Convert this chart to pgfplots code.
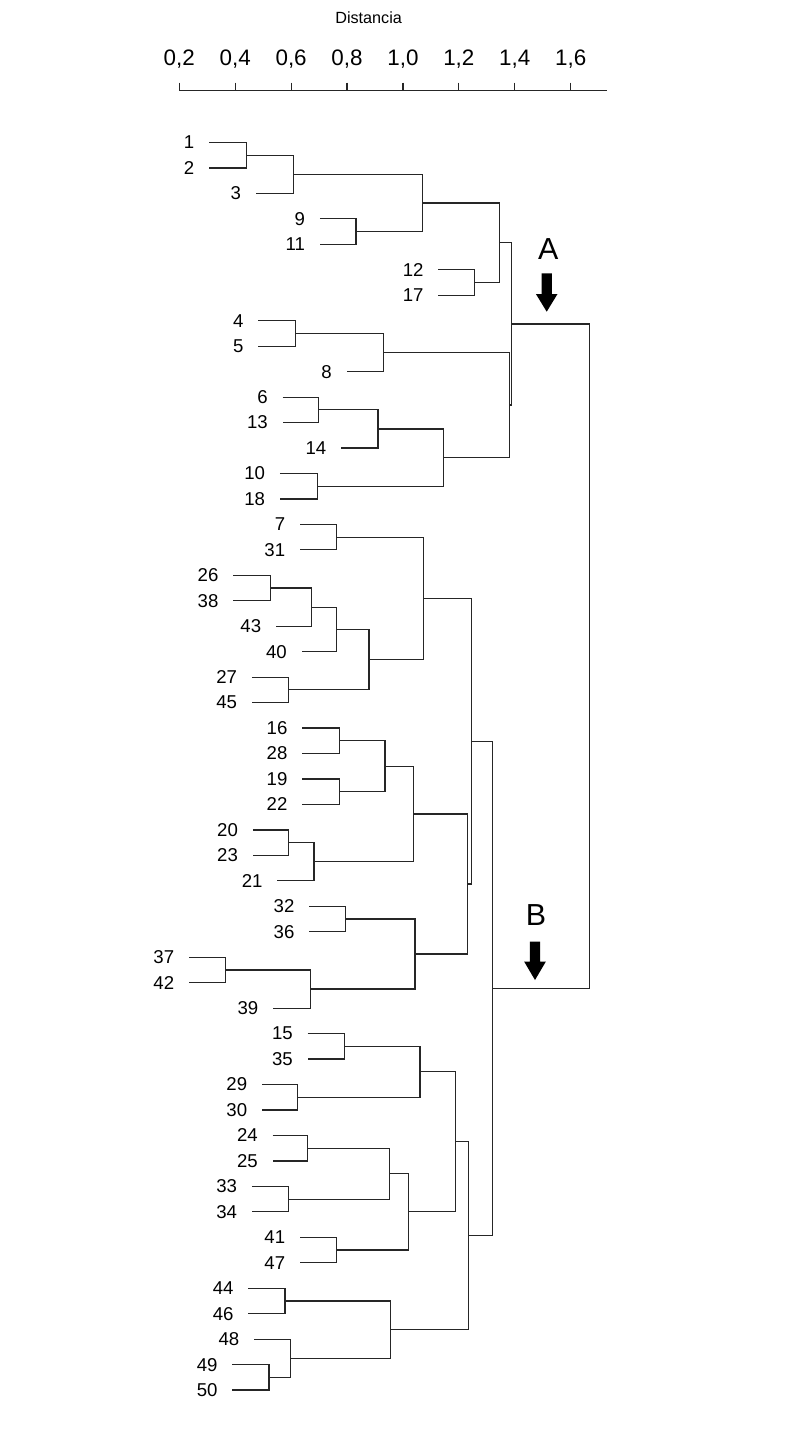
\documentclass[border=0pt]{standalone}
\usepackage{fontspec}
\setmainfont{Liberation Sans}
\usepackage{pgfplots}
\pgfplotsset{compat=1.18}
\usepackage{pgfplotstable}

% dendrogram links: each merge drawn as (child1 x, y1) -- (height, y1) -- (height, y2) -- (child2 x, y2)
\pgfplotstableread{
x y
0.307 1
0.441 1
0.441 2
0.307 2
nan nan
0.441 1.5
0.608 1.5
0.608 3
0.474 3
nan nan
0.703 4
0.832 4
0.832 5
0.703 5
nan nan
0.608 2.25
1.069 2.25
1.069 4.5
0.832 4.5
nan nan
1.127 6
1.255 6
1.255 7
1.127 7
nan nan
1.069 3.375
1.347 3.375
1.347 6.5
1.255 6.5
nan nan
0.483 8
0.616 8
0.616 9
0.483 9
nan nan
0.616 8.5
0.931 8.5
0.931 10
0.799 10
nan nan
0.570 11
0.697 11
0.697 12
0.570 12
nan nan
0.697 11.5
0.911 11.5
0.911 13
0.779 13
nan nan
0.560 14
0.694 14
0.694 15
0.560 15
nan nan
0.911 12.25
1.145 12.25
1.145 14.5
0.694 14.5
nan nan
0.931 9.25
1.381 9.25
1.381 13.375
1.145 13.375
nan nan
1.347 4.9375
1.389 4.9375
1.389 11.3125
1.381 11.3125
nan nan
0.632 16
0.763 16
0.763 17
0.632 17
nan nan
0.393 18
0.526 18
0.526 19
0.393 19
nan nan
0.526 18.5
0.674 18.5
0.674 20
0.546 20
nan nan
0.674 19.25
0.763 19.25
0.763 21
0.638 21
nan nan
0.460 22
0.592 22
0.592 23
0.460 23
nan nan
0.763 20.125
0.879 20.125
0.879 22.5
0.592 22.5
nan nan
0.763 16.5
1.075 16.5
1.075 21.3125
0.879 21.3125
nan nan
0.640 24
0.772 24
0.772 25
0.640 25
nan nan
0.640 26
0.772 26
0.772 27
0.640 27
nan nan
0.772 24.5
0.936 24.5
0.936 26.5
0.772 26.5
nan nan
0.463 28
0.591 28
0.591 29
0.463 29
nan nan
0.591 28.5
0.682 28.5
0.682 30
0.551 30
nan nan
0.936 25.5
1.039 25.5
1.039 29.25
0.682 29.25
nan nan
0.665 31
0.795 31
0.795 32
0.665 32
nan nan
0.235 33
0.366 33
0.366 34
0.235 34
nan nan
0.366 33.5
0.670 33.5
0.670 35
0.536 35
nan nan
0.795 31.5
1.043 31.5
1.043 34.25
0.670 34.25
nan nan
1.039 27.375
1.230 27.375
1.230 32.875
1.043 32.875
nan nan
1.075 18.90625
1.244 18.90625
1.244 30.125
1.230 30.125
nan nan
0.659 36
0.792 36
0.792 37
0.659 37
nan nan
0.496 38
0.624 38
0.624 39
0.496 39
nan nan
0.792 36.5
1.061 36.5
1.061 38.5
0.624 38.5
nan nan
0.534 40
0.659 40
0.659 41
0.534 41
nan nan
0.460 42
0.590 42
0.590 43
0.460 43
nan nan
0.659 40.5
0.951 40.5
0.951 42.5
0.590 42.5
nan nan
0.632 44
0.763 44
0.763 45
0.632 45
nan nan
0.951 41.5
1.021 41.5
1.021 44.5
0.763 44.5
nan nan
1.061 37.5
1.189 37.5
1.189 43
1.021 43
nan nan
0.447 46
0.578 46
0.578 47
0.447 47
nan nan
0.390 49
0.521 49
0.521 50
0.390 50
nan nan
0.468 48
0.599 48
0.599 49.5
0.521 49.5
nan nan
0.578 46.5
0.956 46.5
0.956 48.75
0.599 48.75
nan nan
1.189 40.25
1.234 40.25
1.234 47.625
0.956 47.625
nan nan
1.244 24.515625
1.320 24.515625
1.320 43.9375
1.234 43.9375
nan nan
1.389 8.125
1.669 8.125
1.669 34.2265625
1.320 34.2265625
}\links

% leaves: start of the leaf line, row, name
\pgfplotstableread{
x y label
0.307 1 1
0.307 2 2
0.474 3 3
0.703 4 9
0.703 5 11
1.127 6 12
1.127 7 17
0.483 8 4
0.483 9 5
0.799 10 8
0.570 11 6
0.570 12 13
0.779 13 14
0.560 14 10
0.560 15 18
0.632 16 7
0.632 17 31
0.393 18 26
0.393 19 38
0.546 20 43
0.638 21 40
0.460 22 27
0.460 23 45
0.640 24 16
0.640 25 28
0.640 26 19
0.640 27 22
0.463 28 20
0.463 29 23
0.551 30 21
0.665 31 32
0.665 32 36
0.235 33 37
0.235 34 42
0.536 35 39
0.659 36 15
0.659 37 35
0.496 38 29
0.496 39 30
0.534 40 24
0.534 41 25
0.460 42 33
0.460 43 34
0.632 44 41
0.632 45 47
0.447 46 44
0.447 47 46
0.468 48 48
0.390 49 49
0.390 50 50
}\leaves

\begin{document}
\begin{tikzpicture}
\begin{axis}[
  scale only axis, width=405.5pt, height=716.5pt,
  xmin=-0.4415, xmax=2.4601, ymin=-4.597, ymax=51.687, y dir=reverse,
  hide axis, clip=false,
]
\path (rel axis cs:0,0) rectangle (rel axis cs:1,1);
\addplot[black!85, line width=0.6pt, unbounded coords=jump] table[x=x,y=y] {\links};
\addplot[draw=none, nodes near coords, point meta=explicit symbolic,
  nodes near coords style={anchor=east, inner sep=0pt, xshift=-7.25pt,
    font=\fontsize{9.3}{11}\selectfont, text=black}]
  table[x=x, y=y, meta=label] {\leaves};
% arrows A and B
\addplot[fill=black, draw=none] coordinates {(1.4959,6.137) (1.5331,6.137) (1.5331,6.951) (1.5531,6.951) (1.5145,7.646) (1.4759,6.951) (1.4959,6.951)} -- cycle;
\addplot[fill=black, draw=none] coordinates {(1.4540,32.390) (1.4912,32.390) (1.4912,33.176) (1.5112,33.176) (1.4726,33.895) (1.4340,33.176) (1.4540,33.176)} -- cycle;
\node[anchor=base, inner sep=0pt, font=\fontsize{15.2}{18}\selectfont] at (axis cs:1.520,5.615) {A};
\node[anchor=base, inner sep=0pt, font=\fontsize{15.2}{18}\selectfont] at (axis cs:1.4762,31.762) {B};
\end{axis}
\begin{axis}[
  at={(89.65pt,671.15pt)}, anchor=north west,
  scale only axis, width=213.7pt, height=1pt,
  xmin=0.2, xmax=1.729, ymin=0, ymax=1,
  axis x line=top, axis y line=none,
  axis line style={-, black!85, line width=0.6pt},
  xtick={0.2,0.4,...,1.6},
  xtick align=outside, major tick length=4pt,
  xtick style={black!85, line width=0.6pt},
  /pgf/number format/assume math mode=true,
  /pgf/number format/.cd, use comma, fixed, fixed zerofill, precision=1,
  /pgfplots/.cd,
  xticklabel style={font=\fontsize{11.2}{13}\selectfont, yshift=3.5pt},
  xlabel={Distancia},
  xlabel style={at={(axis description cs:0.443,1)}, anchor=base, yshift=33.7pt,
    font=\fontsize{8.1}{10}\selectfont, inner sep=0pt},
]
\addplot[draw=none] coordinates {(0.2,0)};
\end{axis}
\end{tikzpicture}
\end{document}
